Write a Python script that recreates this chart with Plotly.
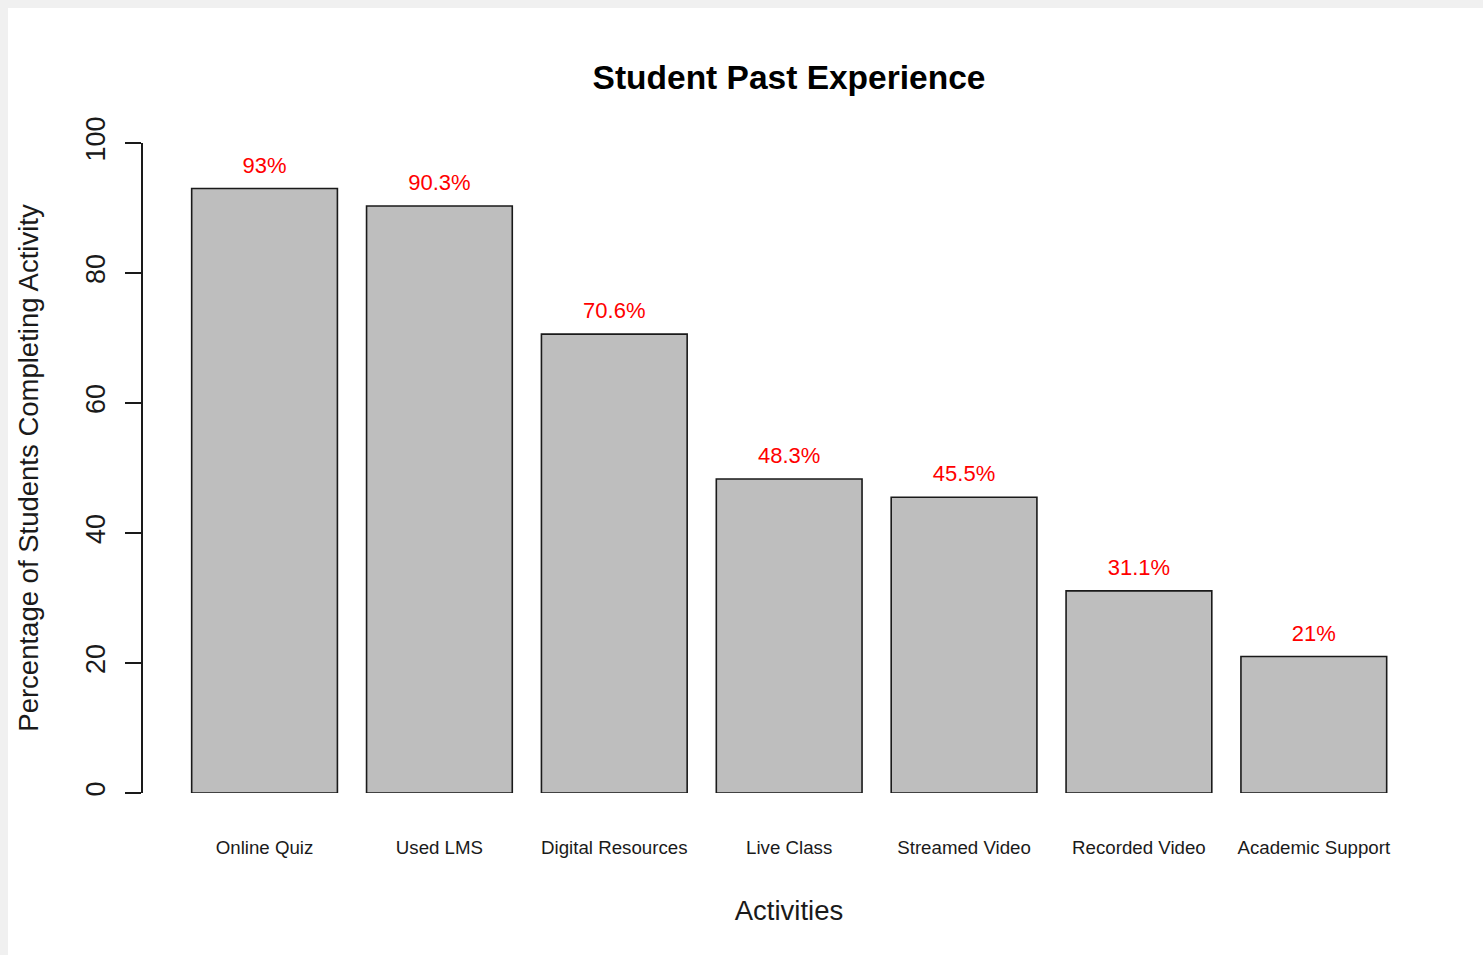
import plotly.graph_objects as go

activities = ["Online Quiz", "Used LMS", "Digital Resources", "Live Class",
              "Streamed Video", "Recorded Video", "Academic Support"]
percentages = [93, 90.3, 70.6, 48.3, 45.5, 31.1, 21]
y_ticks = [0, 20, 40, 60, 80, 100]

FONT = "Liberation Sans, Arial, sans-serif"
LABEL_OFFSET = 3.3
W, H = 1483, 955
ML, MR, MT, MB = 143, 48, 143, 162
PW, PH = W - ML - MR, H - MT - MB

fig = go.Figure()
fig.add_trace(go.Bar(
    x=activities, y=percentages,
    marker=dict(color="#bebebe", line=dict(color="#1a1a1a", width=1.6)),
    hoverinfo="x+y", showlegend=False,
))
fig.add_trace(go.Scatter(
    x=activities, y=[v + LABEL_OFFSET for v in percentages],
    mode="text", text=[f"{v:g}%" for v in percentages],
    textposition="middle center",
    textfont=dict(family=FONT, size=22, color="#ff0000"),
    showlegend=False, hoverinfo="skip", cliponaxis=False,
))

# white page panel on a light grey background (8 px strip on top and left)
fig.add_shape(type="rect", xref="paper", yref="paper", layer="below",
              x0=(8 - ML) / PW, x1=(W + 20 - ML) / PW,
              y0=-(MB + 20) / PH, y1=(H - MB - 8) / PH,
              fillcolor="white", line=dict(width=0))

fig.update_layout(
    width=W, height=H,
    margin=dict(l=ML, r=MR, t=MT, b=MB, autoexpand=False),
    paper_bgcolor="#f0f0f0", plot_bgcolor="white",
    font=dict(family=FONT, color="black"),
    bargap=1 - 1 / 1.2,
    title=dict(text="<b>Student Past Experience</b>", x=0.5, xref="paper", xanchor="center",
               y=1 - 77 / H, yref="container", yanchor="middle",
               font=dict(family=FONT, size=33.5, color="black")),
    xaxis=dict(
        range=[-0.695, 6.693], showline=False, showgrid=False, zeroline=False,
        ticks="", tickfont=dict(family=FONT, size=18.7, color="#1a1a1a"),
        ticklabelstandoff=41, automargin=False,
        title=dict(text="Activities", font=dict(family=FONT, size=27.5, color="#1a1a1a"), standoff=44),
    ),
    yaxis=dict(
        range=[0, 100], tickvals=y_ticks, showline=True, linecolor="#1a1a1a", linewidth=1.6,
        showgrid=False, zeroline=False, ticks="outside", ticklen=16, tickwidth=1.6,
        tickcolor="#1a1a1a", tickangle=-90, ticklabelstandoff=9,
        tickfont=dict(family=FONT, size=27, color="#1a1a1a"), automargin=False,
        title=dict(text="Percentage of Students Completing Activity",
                   font=dict(family=FONT, size=27.5, color="#1a1a1a"), standoff=35),
    ),
)

fig.write_html("out.html", config={"displayModeBar": False},
               post_script="document.body.style.margin='0';document.body.style.overflow='hidden';")
